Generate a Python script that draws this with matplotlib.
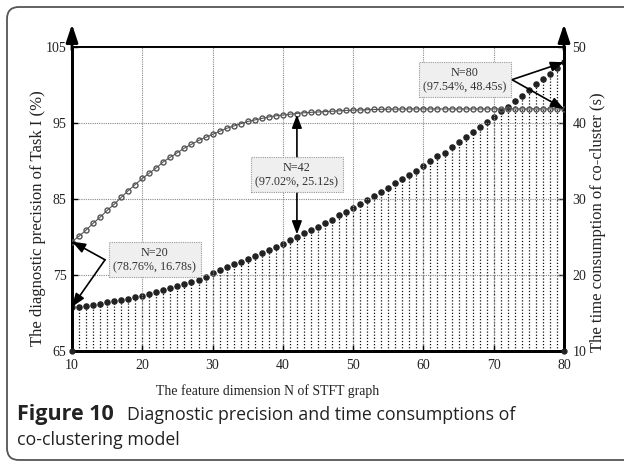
import matplotlib
matplotlib.use("Agg")
import matplotlib.pyplot as plt
from matplotlib.patches import FancyBboxPatch
from matplotlib.transforms import IdentityTransform

# feature dimension N
N = list(range(10, 81))

# diagnostic precision of Task I (%), left axis
PRECISION = [79.4, 80.1, 80.9, 81.8, 82.6, 83.5, 84.3, 85.2, 86.1, 86.9,
             87.7, 88.4, 89.1, 89.9, 90.5, 91.1, 91.7, 92.2, 92.7, 93.1,
             93.5, 93.9, 94.3, 94.6, 94.9, 95.2, 95.4, 95.6, 95.8, 95.95,
             96.05, 96.15, 96.25, 96.35, 96.4, 96.45, 96.5, 96.55, 96.6, 96.65,
             96.7, 96.72, 96.75, 96.78, 96.8, 96.82, 96.83, 96.84, 96.85, 96.85,
             96.85, 96.85, 96.85, 96.85, 96.85, 96.85, 96.85, 96.85, 96.85, 96.85,
             96.85, 96.85, 96.85, 96.85, 96.85, 96.85, 96.85, 96.85, 96.85, 96.85,
             96.85]

# time consumption of co-cluster (s), right axis
TIME = [15.8, 15.85, 15.9, 16.0, 16.2, 16.4, 16.6, 16.75, 16.9, 17.15,
        17.3, 17.5, 17.75, 18.0, 18.25, 18.55, 18.8, 19.1, 19.4, 19.8,
        20.3, 20.65, 21.0, 21.4, 21.75, 22.15, 22.5, 22.9, 23.35, 23.7,
        24.1, 24.6, 25.04, 25.5, 25.9, 26.35, 26.8, 27.3, 27.85, 28.3,
        28.85, 29.3, 29.9, 30.4, 30.95, 31.5, 32.1, 32.6, 33.2, 33.7,
        34.3, 35.0, 35.6, 36.1, 36.8, 37.5, 38.1, 38.8, 39.5, 40.1,
        40.8, 41.6, 42.1, 42.85, 43.6, 44.3, 45.1, 45.8, 46.5, 47.2,
        48.0]

X_TICKS = [10, 20, 30, 40, 50, 60, 70, 80]
LEFT_TICKS = [65, 75, 85, 95, 105]
RIGHT_TICKS = [10, 20, 30, 40, 50]

# annotated points: (N, box label)
NOTES = [(20, "N=20\n(78.76%, 16.78s)"),
         (42, "N=42\n(97.02%, 25.12s)"),
         (80, "N=80\n(97.54%, 48.45s)")]

SERIF = "Liberation Serif"
SANS = "Open Sans"


def main():
    fig = plt.figure(figsize=(6.24, 4.67), dpi=100)
    ax = fig.add_axes([72 / 624, 1 - 351 / 467, 492 / 624, 304 / 467])
    ax2 = ax.twinx()
    ax.set_zorder(ax2.get_zorder() + 1)
    ax.patch.set_visible(False)

    # time: dotted stems + black dots
    ax2.vlines(N, 10, TIME, colors="#111111", linestyles=(0, (1, 1.5)), lw=0.9)
    ax2.plot(N, TIME, "o", color="#222222", ms=3.7, zorder=3)

    # precision: hollow circles joined by a line
    ax.plot(N, PRECISION, "-o", color="#555555", mfc="none", mec="#555555",
            mew=1.0, ms=3.6, lw=0.8, zorder=3)

    ax.set_xlim(10, 80)
    ax.set_ylim(65, 105)
    ax2.set_ylim(10, 50)
    ax.set_xticks(X_TICKS)
    ax.set_yticks(LEFT_TICKS)
    ax2.set_yticks(RIGHT_TICKS)

    ax.grid(True, linestyle=(0, (1, 1)), color="#888888", lw=0.8)
    ax.set_axisbelow(True)

    for a in (ax, ax2):
        for s in a.spines.values():
            s.set_color("black")
        a.spines["left"].set_linewidth(2)
        a.spines["right"].set_linewidth(2)
        a.spines["bottom"].set_linewidth(2)
        a.spines["top"].set_linewidth(1.3)
        a.tick_params(direction="in", length=4, width=1, labelsize=10, pad=4,
                      labelcolor="#222222")
        for lab in a.get_xticklabels() + a.get_yticklabels():
            lab.set_fontfamily(SERIF)
    ax.tick_params(axis="x", pad=6)
    ax2.tick_params(axis="y", pad=6)

    # arrows on top of the vertical axes
    for xa in (0, 1):
        ax.annotate("", xy=(xa, 1.075), xytext=(xa, 0.99), xycoords="axes fraction",
                    arrowprops=dict(arrowstyle="-|>,head_width=0.3,head_length=0.9",
                                    color="black", lw=2, mutation_scale=12,
                                    shrinkA=0, shrinkB=0))
        ax.plot(xa, 0, "o", color="#222222", ms=3.5, transform=ax.transAxes,
                clip_on=False, zorder=5)

    # annotation boxes and arrows
    box = dict(boxstyle="square,pad=0.35", fc="#efefef", ec="#999999",
               ls=(0, (1, 1)), lw=0.8)
    arrow = dict(arrowstyle="-|>,head_width=0.3,head_length=0.8", color="black",
                 lw=1.2, mutation_scale=10, shrinkA=0, shrinkB=0)
    text_kw = dict(ha="center", va="center", fontsize=8.7, family=SERIF,
                   color="#333333", linespacing=1.25, bbox=box, zorder=6)

    # N=20 box, arrows to the first points
    i0 = 0
    ax.text(21.8, 77.0, NOTES[0][1], **text_kw)
    ax.annotate("", xy=(N[i0], PRECISION[i0]), xytext=(14.7, 77.0), arrowprops=arrow)
    ax.annotate("", xy=(N[i0], TIME[i0]), xycoords=ax2.transData,
                xytext=(14.7, 77.0), textcoords=ax.transData, arrowprops=arrow)

    # N=42 box, vertical arrows
    i1 = N.index(NOTES[1][0])
    ax.text(42, 88.2, NOTES[1][1], **text_kw)
    ax.annotate("", xy=(N[i1], PRECISION[i1] - 0.15), xytext=(42, 88.2), arrowprops=arrow)
    ax.annotate("", xy=(N[i1], TIME[i1] + 0.3), xycoords=ax2.transData,
                xytext=(42, 88.2), textcoords=ax.transData, arrowprops=arrow)

    # N=80 box, arrows to the last points
    i2 = N.index(NOTES[2][0])
    ax.text(65.9, 100.7, NOTES[2][1], **text_kw)
    ax.annotate("", xy=(N[i2], PRECISION[i2]), xytext=(72.6, 100.7), arrowprops=arrow)
    ax.annotate("", xy=(N[i2], TIME[i2]), xycoords=ax2.transData,
                xytext=(72.6, 100.7), textcoords=ax.transData, arrowprops=arrow)

    # axis labels
    fig.text(268 / 624, 1 - 391 / 467, "The feature dimension N of STFT graph",
             ha="center", va="center", fontsize=9.9, family=SERIF, color="#222222")
    fig.text(38 / 624, 1 - 218 / 467, "The diagnostic precision of Task I (%)",
             ha="center", va="center", rotation=90, fontsize=12, family=SERIF,
             color="#222222")
    fig.text(598 / 624, 1 - 222 / 467, "The time consumption of co-cluster (s)",
             ha="center", va="center", rotation=90, fontsize=12, family=SERIF,
             color="#222222")

    # caption
    fig.text(17 / 624, 1 - 420 / 467, "Figure 10", fontsize=15.5,
             family=SANS, weight="bold", color="#222222")
    fig.text(127 / 624, 1 - 420 / 467, "Diagnostic precision and time consumptions of",
             fontsize=12.8, family=SANS, color="#222222")
    fig.text(17 / 624, 1 - 445 / 467, "co-clustering model", fontsize=12.8,
             family=SANS, color="#222222")

    # rounded frame (right side runs off the image)
    frame = FancyBboxPatch((7, 7), 640, 453, boxstyle="round,pad=0,rounding_size=12",
                           fc="none", ec="#555555", lw=1.3, transform=IdentityTransform())
    fig.add_artist(frame)

    fig.savefig("out.png", dpi=100)


if __name__ == "__main__":
    main()
